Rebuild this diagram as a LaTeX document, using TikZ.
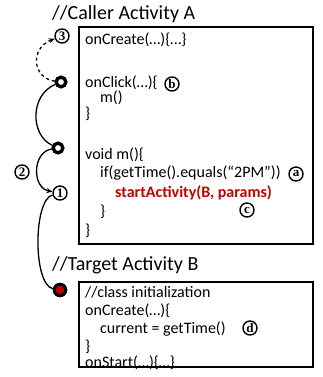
\documentclass[tikz,border=0pt]{standalone}
\usepackage{fontspec}
\setmainfont{Carlito}
\newfontfamily\lblfont{Liberation Serif}
\usetikzlibrary{arrows.meta}
\definecolor{darkred}{RGB}{192,0,0}
\tikzset{
  code/.style={anchor=west, inner sep=0pt, font=\fontsize{16}{18}\selectfont},
  title/.style={anchor=west, inner sep=0pt, font=\fontsize{20}{22}\selectfont},
  lbl/.style={circle, draw, line width=1.4pt, inner sep=0pt, minimum size=14pt, font=\lblfont\bfseries\fontsize{13}{13}\selectfont},
  ring/.style={circle, draw, line width=3.2pt, fill=white, inner sep=0pt, minimum size=9.5pt},
  redring/.style={circle, draw, line width=2.8pt, fill=darkred, inner sep=0pt, minimum size=11.5pt},
  box/.style={draw, line width=1.5pt},
  link/.style={line width=1.3pt},
  arr/.style={-{Stealth[length=6pt,width=5pt]}}
}
\begin{document}
\begin{tikzpicture}[x=1pt,y=-1pt]
\useasboundingbox (0,0) rectangle (323,377);
% titles
\node[title] (ta) at (52,14) {//Caller Activity A};
\node[title] (tb) at (52,265) {//Target Activity B};
% boxes
\draw[box] (79,27) rectangle (313,244);
\draw[box] (79,282) rectangle (313,367);
% box A text
\node[code] (l1) at (85,40) {onCreate(…)\{…\}};
\node[code] (l2) at (85,83) {onClick(…)\{};
\node[code] (l3) at (100,98) {m()};
\node[code] (l4) at (85,114) {\}};
\node[code] (l5) at (85,155) {void m()\{};
\node[code] (l6) at (100,173) {if(getTime().equals(“2PM”))};
\node[code, text=darkred, font=\fontsize{16}{18}\selectfont\bfseries] (l7) at (115,193) {startActivity(B, params)};
\node[code] (l8) at (100,212) {\}};
\node[code] (l9) at (85,231) {\}};
% box B text
\node[code] (m1) at (85,292) {//class initialization};
\node[code] (m2) at (85,311) {onCreate(…)\{};
\node[code] (m3) at (100,329) {current = getTime()};
\node[code] (m4) at (85,347) {\}};
\node[code] (m5) at (85,363) {onStart(…)\{…\}};
% circled labels
\node[lbl] (la) at (296,174) {a};
\node[lbl] (lb) at (172,84) {b};
\node[lbl] (lc) at (247,210) {c};
\node[lbl] (ld) at (250,328) {d};
\node[lbl] (c3) at (62,36) {3};
\node[lbl] (c2) at (22,172) {2};
\node[lbl] (c1) at (60,193) {1};
% rings
\node[ring] (h1) at (61,82) {};
\node[ring] (h2) at (58,148) {};
\node[redring] (r) at (60,290) {};
% connectors
\draw[link, dashed, arr] (h1) .. controls (32,78) and (30,48) .. (c3);
\draw[link] (h1) .. controls (30,95) and (30,135) .. (h2);
\draw[link, arr] (h2) .. controls (32,152) and (32,188) .. (c1);
\draw[link] (c1) .. controls (33,200) and (33,285) .. (r);
% redraw rings on top
\node[ring] at (h1) {};
\node[ring] at (h2) {};
\node[redring] at (r) {};
\end{tikzpicture}
\end{document}
